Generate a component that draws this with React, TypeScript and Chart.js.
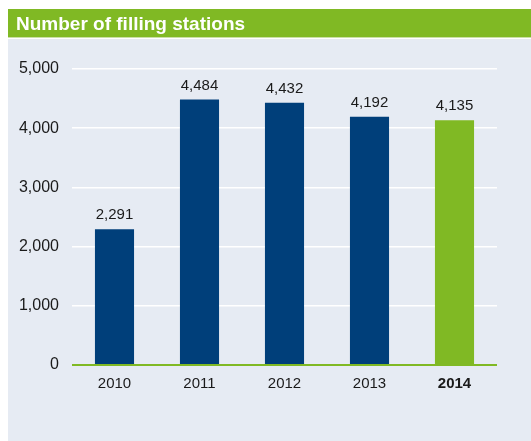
import React, { useEffect, useRef } from "react";
import { Chart, registerables } from "chart.js";

Chart.register(...registerables);

const categories = ["2010", "2011", "2012", "2013", "2014"];
const stations = [2291, 4484, 4432, 4192, 4135];
const yTicks = [0, 1000, 2000, 3000, 4000, 5000];

const NAVY = "#003f7a";
const GREEN = "#80b924";
const BG = "#e6ebf3";
const FONT = "'Liberation Sans', Arial, sans-serif";

const valueLabels = {
  id: "valueLabels",
  afterDatasetsDraw(chart: any) {
    const ctx = chart.ctx;
    const meta = chart.getDatasetMeta(0);
    ctx.save();
    ctx.font = `15px ${FONT}`;
    ctx.fillStyle = "#1a1a1a";
    ctx.textAlign = "center";
    ctx.textBaseline = "alphabetic";
    meta.data.forEach((bar: any, i: number) => {
      ctx.fillText(stations[i].toLocaleString("en-US"), bar.x, bar.y - 10);
    });
    ctx.restore();
  },
};

export default function App() {
  const ref = useRef<HTMLCanvasElement>(null);
  useEffect(() => {
    if (!ref.current) return;
    const chart = new Chart(ref.current, {
      type: "bar",
      data: {
        labels: categories,
        datasets: [
          {
            data: stations,
            backgroundColor: stations.map((_, i) => (i === stations.length - 1 ? GREEN : NAVY)),
            borderWidth: 0,
            categoryPercentage: 1,
            barPercentage: 0.46,
          },
        ],
      },
      options: {
        animation: false,
        responsive: false,
        maintainAspectRatio: false,
        layout: { padding: { top: 30, right: 34, left: 0, bottom: 0 } },
        plugins: { legend: { display: false }, tooltip: { enabled: false } },
        scales: {
          x: {
            grid: { display: false, drawTicks: false },
            border: { display: false },
            ticks: {
              padding: 10,
              color: "#1a1a1a",
              font: (c: any) => ({
                family: FONT,
                size: 15,
                weight: c.index === categories.length - 1 ? "bold" : "normal",
              }),
            },
            afterFit: (s: any) => {
              s.height = 76;
            },
          },
          y: {
            min: 0,
            max: 5000,
            afterBuildTicks: (s: any) => {
              s.ticks = yTicks.map((v) => ({ value: v }));
            },
            grid: {
              drawTicks: false,
              lineWidth: (c: any) => (c.tick && c.tick.value === 0 ? 2 : 1.5),
              color: (c: any) => (c.tick && c.tick.value === 0 ? GREEN : "#ffffff"),
            },
            border: { display: false },
            ticks: {
              padding: 13,
              color: "#1a1a1a",
              font: { family: FONT, size: 16 },
              callback: (v: any) => Number(v).toLocaleString("en-US"),
            },
            afterFit: (s: any) => {
              s.width = 64;
            },
          },
        },
      },
      plugins: [valueLabels],
    });
    return () => chart.destroy();
  }, []);

  return (
    <div style={{ position: "fixed", left: 8, top: 9, width: 523, height: 432 }}>
      <div
        style={{
          height: 29,
          background: GREEN,
          color: "#fff",
          fontFamily: FONT,
          fontWeight: "bold",
          fontSize: 19,
          lineHeight: "29px",
          paddingLeft: 8,
          borderBottom: "1px solid #c9dfa6",
          boxSizing: "border-box",
        }}
      >
        Number of filling stations
      </div>
      <div style={{ background: BG, height: 402, marginTop: 1 }}>
        <canvas ref={ref} width={523} height={402} style={{ display: "block" }} />
      </div>
    </div>
  );
}
